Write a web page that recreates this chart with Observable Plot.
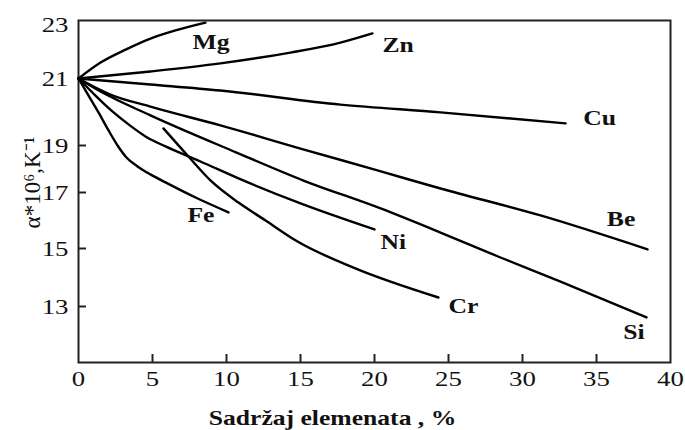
<!DOCTYPE html>
<html>
<head>
<meta charset="utf-8">
<script src="https://cdn.jsdelivr.net/npm/d3@7"></script>
<script src="https://cdn.jsdelivr.net/npm/@observablehq/plot@0.6"></script>
<style>
  body { margin: 0; background: #fff; }
  #chart { width: 685px; height: 430px; }
</style>
</head>
<body>
<div id="chart"></div>
<script>
// ---- Data (content %, alpha*10^6 K^-1) ----
const mgX = [0, 1.49, 3.18, 4.86, 6.55, 8.58];
const mgY = [21, 21.59, 22.07, 22.48, 22.78, 23.07];

const znX = [0, 4.86, 9.59, 14.32, 17.70, 19.86];
const znY = [21, 21.26, 21.56, 21.96, 22.33, 22.67];

const cuX = [0, 4.86, 9.59, 17.70, 24.46, 32.91];
const cuY = [21, 20.82, 20.64, 20.22, 19.99, 19.66];

const beX = [0, 2.16, 4.86, 9.59, 15.0, 20.2, 24.46, 31.22, 38.45];
const beY = [21, 20.52, 20.16, 19.60, 18.87, 17.94, 17.17, 16.18, 14.97];

const siX = [0, 1.49, 4.86, 10.68, 15.20, 20.41, 24.46, 28.51, 32.57, 38.38];
const siY = [21, 20.61, 19.90, 18.70, 17.51, 16.43, 15.57, 14.69, 13.86, 12.63];

const niX = [0, 1.15, 2.23, 3.38, 4.53, 5.88, 8.24, 10.81, 15.0, 20.0];
const niY = [21, 20.49, 20.04, 19.63, 19.27, 18.96, 18.32, 17.60, 16.61, 15.68];

const crX = [5.74, 7.43, 8.99, 10.81, 12.64, 14.80, 18.58, 24.32];
const crY = [19.51, 18.53, 17.47, 16.64, 16.0, 15.25, 14.34, 13.31];

const feX = [0, 0.68, 1.35, 2.03, 2.64, 3.24, 3.99, 4.86, 5.88, 7.91, 10.14];
const feY = [21, 20.49, 19.99, 19.45, 19.0, 18.49, 18.11, 17.77, 17.43, 16.82, 16.29];

const elements = ["Mg", "Zn", "Cu", "Be", "Si", "Ni", "Cr", "Fe"];
const seriesX = [mgX, znX, cuX, beX, siX, niX, crX, feX];
const seriesY = [mgY, znY, cuY, beY, siY, niY, crY, feY];

// curve labels
const labelNames = ["Mg", "Zn", "Cu", "Be", "Si", "Ni", "Cr", "Fe"];
const labelX = [7.7, 20.54, 34.1, 35.7, 36.8, 20.4, 25.0, 7.36];
const labelY = [22.34, 22.22, 19.81, 16.04, 12.13, 15.23, 13.0, 16.18];

// axes
const xTicks = [0, 5, 10, 15, 20, 25, 30, 35, 40];
const xTickMarks = [5, 10, 15, 20, 25, 30, 35];
const yTicks = [13, 15, 17, 19, 21, 23];
const yTickMarks = [13, 15, 17, 19];
const xTitle = "Sadržaj elemenata , %";
const yTitle = "α*10⁶,K⁻¹";

// the reference's printed y axis is unevenly spaced: value -> axis position (piecewise)
const yKnots = [11.1, 13, 15, 17, 19, 21, 23, 23.15];
const yKnotPos = [0, 56, 114, 170, 217, 284, 338, 342];
const yWarp = d3.scaleLinear().domain(yKnots).range(yKnotPos);

// ---- Build table ----
const rows = [];
elements.forEach((el, i) => {
  seriesX[i].forEach((x, j) => rows.push({el, x, y: seriesY[i][j]}));
});
const labels = labelNames.map((t, i) => ({t, x: labelX[i], y: labelY[i]}));

const W = 685, H = 430, mL = 78, mR = 15, mT = 20, mB = 68;

const chart = Plot.plot({
  width: W, height: H,
  marginLeft: mL, marginRight: mR, marginTop: mT, marginBottom: mB,
  style: {fontFamily: "'Liberation Serif', 'Times New Roman', serif", fontSize: "22px", color: "#111", background: "#fff", overflow: "visible"},
  x: {domain: [0, 40], axis: null},
  y: {transform: v => yWarp(v), domain: [0, 342], axis: null},
  marks: [
    Plot.frame({stroke: "#222", strokeWidth: 2}),
    Plot.tickX(xTickMarks, {x: d => d, insetTop: (H - mT - mB) - 8, stroke: "#222", strokeWidth: 2}),
    Plot.tickY(yTickMarks, {y: d => d, insetRight: (W - mL - mR) - 8, stroke: "#222", strokeWidth: 2}),
    Plot.axisX({ticks: xTicks, tickSize: 0, tickPadding: 8, label: null, fontSize: 22}),
    Plot.axisY(yTicks, {y: d => d, text: d => String(d), tickSize: 0, tickPadding: 10, label: null, fontSize: 22}),
    Plot.line(rows, {x: "x", y: "y", z: "el", curve: "monotone-x", stroke: "#000", strokeWidth: 2.4}),
    Plot.text(labels, {x: "x", y: "y", text: "t", textAnchor: "start", fontSize: 21, fontWeight: "bold", fill: "#111"}),
    Plot.text([xTitle], {frameAnchor: "bottom", textAnchor: "middle", lineAnchor: "middle", dx: -42, dy: 56, fontSize: 21, fontWeight: "bold", fill: "#111"}),
    Plot.text([yTitle], {frameAnchor: "left", textAnchor: "middle", lineAnchor: "middle", dx: -46, dy: -9, rotate: -90, fontSize: 23, fill: "#111"})
  ]
});

document.getElementById("chart").append(chart);

// widen glyphs horizontally like the reference (except rotated y title)
const svg = chart.tagName.toLowerCase() === "svg" ? chart : chart.querySelector("svg");
svg.querySelectorAll("text").forEach(t => {
  if (t.textContent === yTitle) return;
  const len = t.getComputedTextLength();
  if (len > 0) {
    t.setAttribute("textLength", (len * 1.22).toFixed(1));
    t.setAttribute("lengthAdjust", "spacingAndGlyphs");
  }
});
</script>
</body>
</html>
